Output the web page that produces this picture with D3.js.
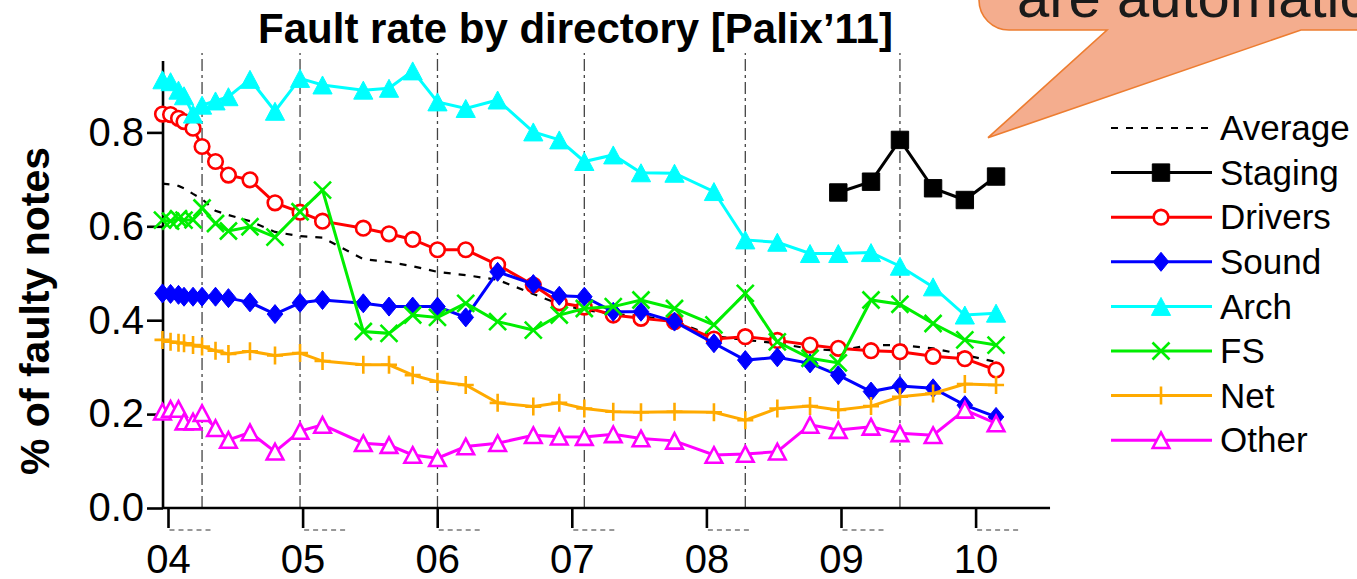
<!DOCTYPE html>
<html>
<head>
<meta charset="utf-8">
<script src="https://cdn.jsdelivr.net/npm/d3@7"></script>
<style>
body { margin: 0; background: #fff; }
svg { display: block; font-family: "Liberation Sans", Arial, Helvetica, sans-serif; }
</style>
</head>
<body>
<svg id="chart" width="1357" height="579"></svg>
<script>
"use strict";

// Release date (fractional year) of every sampled kernel version
const releaseYears = [2003.959, 2004.019, 2004.078, 2004.119, 2004.186, 2004.253, 2004.353, 2004.449,
    2004.609, 2004.795, 2004.981, 2005.148, 2005.451, 2005.642, 2005.818, 2006.002, 2006.212, 2006.449,
    2006.714, 2006.907, 2007.093, 2007.308, 2007.514, 2007.763, 2008.056, 2008.289, 2008.527, 2008.770,
    2008.980, 2009.223, 2009.438, 2009.684, 2009.920, 2010.152];

// Releases that get a dash-dot line (every fifth one)
const markedReleases = [5, 10, 15, 20, 25, 30];

// Fault rate per directory, one value per release
const averageRate = [0.691, 0.689, 0.686, 0.681, 0.669, 0.658, 0.633, 0.624, 0.611, 0.588, 0.579, 0.576,
    0.530, 0.524, 0.515, 0.503, 0.496, 0.486, 0.456, 0.434, 0.422, 0.413, 0.409, 0.398, 0.366, 0.358,
    0.351, 0.339, 0.335, 0.347, 0.347, 0.340, 0.326, 0.311];
const stagingRate = [null, null, null, null, null, null, null, null, null, null, null, null, null, null,
    null, null, null, null, null, null, null, null, null, null, null, null, null, null,
    0.672, 0.695, 0.784, 0.681, 0.656, 0.706];
const driversRate = [0.839, 0.838, 0.830, 0.823, 0.809, 0.770, 0.738, 0.709, 0.699, 0.650, 0.630, 0.611,
    0.596, 0.584, 0.572, 0.550, 0.550, 0.518, 0.475, 0.437, 0.428, 0.411, 0.404, 0.397, 0.360, 0.365,
    0.357, 0.347, 0.340, 0.335, 0.333, 0.323, 0.318, 0.294];
const soundRate = [0.457, 0.456, 0.454, 0.450, 0.450, 0.450, 0.450, 0.447, 0.438, 0.413, 0.437, 0.443,
    0.436, 0.429, 0.429, 0.429, 0.406, 0.503, 0.477, 0.452, 0.450, 0.418, 0.418, 0.397, 0.351, 0.315,
    0.321, 0.308, 0.283, 0.248, 0.260, 0.255, 0.219, 0.194];
const archRate = [0.912, 0.908, 0.890, 0.878, 0.839, 0.858, 0.867, 0.876, 0.913, 0.845, 0.915, 0.901,
    0.890, 0.894, 0.931, 0.865, 0.851, 0.869, 0.801, 0.784, 0.738, 0.752, 0.714, 0.713, 0.674, 0.571,
    0.566, 0.542, 0.542, 0.544, 0.515, 0.471, 0.411, 0.415];
const fsRate = [0.613, 0.611, 0.616, 0.613, 0.614, 0.639, 0.606, 0.590, 0.599, 0.577, 0.631, 0.677,
    0.376, 0.372, 0.411, 0.406, 0.436, 0.397, 0.379, 0.411, 0.425, 0.429, 0.443, 0.425, 0.390, 0.457,
    0.354, 0.319, 0.309, 0.443, 0.434, 0.393, 0.358, 0.347];
const netRate = [0.358, 0.354, 0.352, 0.351, 0.347, 0.344, 0.335, 0.328, 0.334, 0.325, 0.330, 0.313,
    0.305, 0.305, 0.283, 0.269, 0.262, 0.224, 0.216, 0.224, 0.212, 0.205, 0.204, 0.205, 0.204, 0.187,
    0.212, 0.217, 0.209, 0.217, 0.237, 0.244, 0.264, 0.262];
const otherRate = [0.205, 0.211, 0.211, 0.184, 0.184, 0.202, 0.170, 0.145, 0.161, 0.120, 0.164, 0.177,
    0.138, 0.134, 0.113, 0.106, 0.131, 0.138, 0.155, 0.152, 0.151, 0.157, 0.148, 0.143, 0.113, 0.115,
    0.120, 0.177, 0.166, 0.173, 0.159, 0.155, 0.209, 0.180];

// Axis ticks
const yearTicks = [2004, 2005, 2006, 2007, 2008, 2009, 2010];
const yearLabels = ["04", "05", "06", "07", "08", "09", "10"];
const rateTicks = [0, 0.2, 0.4, 0.6, 0.8];

const series = [
    {name: "Average", values: averageRate, color: "#000000", marker: "none", dash: "7,8", width: 2.2},
    {name: "Staging", values: stagingRate, color: "#000000", marker: "square"},
    {name: "Drivers", values: driversRate, color: "#ff0000", marker: "circle"},
    {name: "Sound", values: soundRate, color: "#0000ff", marker: "diamond"},
    {name: "Arch", values: archRate, color: "#00ffff", marker: "triangle"},
    {name: "FS", values: fsRate, color: "#00ee00", marker: "cross"},
    {name: "Net", values: netRate, color: "#ffaa00", marker: "plus"},
    {name: "Other", values: otherRate, color: "#ff00ff", marker: "triangleOpen"}
];

const svg = d3.select("#chart");

const x = d3.scaleLinear().domain([2004, 2010]).range([168, 975.6]),
    y = d3.scaleLinear().domain([0, 1]).range([508, 38.5]);

// marker shapes centred on 0,0
function markerPath(type) {
    switch (type) {
        case "square": return "M-8.7,-8.7h17.4v17.4h-17.4z";
        case "circle": return "M-7.3,0a7.3,7.3 0 1,0 14.6,0a7.3,7.3 0 1,0 -14.6,0z";
        case "diamond": return "M0,-9.5L7.8,0L0,9.5L-7.8,0z";
        case "triangle": return "M0,-9L9.6,9L-9.6,9z";
        case "triangleOpen": return "M0,-7.8L8.3,7.8L-8.3,7.8z";
        case "cross": return "M-8.5,-8.5L8.5,8.5M-8.5,8.5L8.5,-8.5";
        case "plus": return "M0,-9V9M-8,0H8";
        default: return "";
    }
}

function styleMarker(sel, s) {
    const filled = ["square", "diamond", "triangle"].includes(s.marker),
        open = ["circle", "triangleOpen"].includes(s.marker);
    sel.attr("d", markerPath(s.marker))
        .attr("fill", filled ? s.color : open ? "#ffffff" : "none")
        .attr("stroke", s.color)
        .attr("stroke-width", filled ? 1 : 2.6)
        .attr("stroke-linejoin", "miter");
}

// title
svg.append("text")
    .attr("x", 575.5).attr("y", 43)
    .attr("text-anchor", "middle")
    .attr("font-size", 42).attr("font-weight", "bold")
    .text("Fault rate by directory [Palix\u201911]");

// speech bubble in the top right corner
svg.append("path")
    .attr("d", "M979,-80V0A30,30 0 0,0 1009,30H1107L988,137.7L1301,30H1420V-80Z")
    .attr("fill", "#f4ad8e")
    .attr("stroke", "#ed7d31")
    .attr("stroke-width", 1.6);
svg.append("text")
    .attr("x", 1017).attr("y", 17)
    .attr("font-size", 58)
    .attr("fill", "#1a1a1a")
    .text("are automatically");

// dash-dot release lines
svg.append("g").selectAll("line")
    .data(markedReleases)
    .join("line")
    .attr("x1", (d) => x(releaseYears[d])).attr("x2", (d) => x(releaseYears[d]))
    .attr("y1", y(0)).attr("y2", y(0.969))
    .attr("stroke", "#444").attr("stroke-width", 1.3)
    .attr("stroke-dasharray", "12,4,3,4");

// y axis
const yAxis = svg.append("g")
    .attr("transform", `translate(${x(2003.963)},0)`)
    .call(d3.axisLeft(y).tickValues(rateTicks).tickFormat(d3.format(".1f")).tickSize(16).tickPadding(3));
yAxis.select(".domain").remove();
yAxis.selectAll(".tick line").attr("stroke", "#000").attr("stroke-width", 2.6);
yAxis.selectAll(".tick text").attr("font-size", 40).attr("font-family", null).attr("fill", "#000");
svg.append("line")
    .attr("x1", x(2003.963)).attr("x2", x(2003.963))
    .attr("y1", y(0)).attr("y2", y(0.952))
    .attr("stroke", "#000").attr("stroke-width", 2.6);

// x axis
const xAxis = svg.append("g")
    .attr("transform", `translate(0,${y(0)})`)
    .call(d3.axisBottom(x).tickValues(yearTicks).tickFormat((d, i) => yearLabels[i]).tickSize(20).tickPadding(17));
xAxis.select(".domain").remove();
xAxis.selectAll(".tick line").attr("stroke", "#000").attr("stroke-width", 2.6);
xAxis.selectAll(".tick text").attr("font-size", 40).attr("font-family", null).attr("fill", "#000");
xAxis.selectAll(".tick").append("line")
    .attr("x1", 1).attr("x2", 46)
    .attr("y1", 22).attr("y2", 22)
    .attr("stroke", "#777").attr("stroke-width", 1.4)
    .attr("stroke-dasharray", "5,4");
svg.append("line")
    .attr("x1", x(2003.963)).attr("x2", x(2010.553))
    .attr("y1", y(0)).attr("y2", y(0))
    .attr("stroke", "#000").attr("stroke-width", 2.6);

// y label
svg.append("text")
    .attr("transform", "translate(49,311) rotate(-90)")
    .attr("text-anchor", "middle")
    .attr("font-size", 41).attr("font-weight", "bold")
    .text("% of faulty notes");

// series lines and markers
const line = d3.line()
    .defined((d) => d[1] !== null)
    .x((d) => x(d[0]))
    .y((d) => y(d[1]));

series.forEach((s) => {
    const pts = releaseYears.map((yr, i) => [yr, s.values[i]]);
    const g = svg.append("g");
    g.append("path")
        .datum(pts)
        .attr("d", line)
        .attr("fill", "none")
        .attr("stroke", s.color)
        .attr("stroke-width", s.width || 3)
        .attr("stroke-dasharray", s.dash || null);
    if (s.marker === "none") return;
    g.selectAll("path.m")
        .data(pts.filter((d) => d[1] !== null))
        .join("path")
        .attr("class", "m")
        .attr("transform", (d) => `translate(${x(d[0])},${y(d[1])})`)
        .call(styleMarker, s);
});

// legend
const legend = svg.append("g").attr("transform", "translate(1111,128)");
const rows = legend.selectAll("g")
    .data(series)
    .join("g")
    .attr("transform", (d, i) => `translate(0,${i * 44.6})`);
rows.append("line")
    .attr("x1", 0).attr("x2", 101)
    .attr("stroke", (d) => d.color)
    .attr("stroke-width", (d) => d.width || 3)
    .attr("stroke-dasharray", (d) => d.dash || null);
rows.filter((d) => d.marker !== "none")
    .append("path")
    .attr("transform", "translate(50,0)")
    .each(function (d) { d3.select(this).call(styleMarker, d); });
rows.append("text")
    .attr("x", 109)
    .attr("dy", "0.35em")
    .attr("font-size", 35)
    .text((d) => d.name);
</script>
</body>
</html>
